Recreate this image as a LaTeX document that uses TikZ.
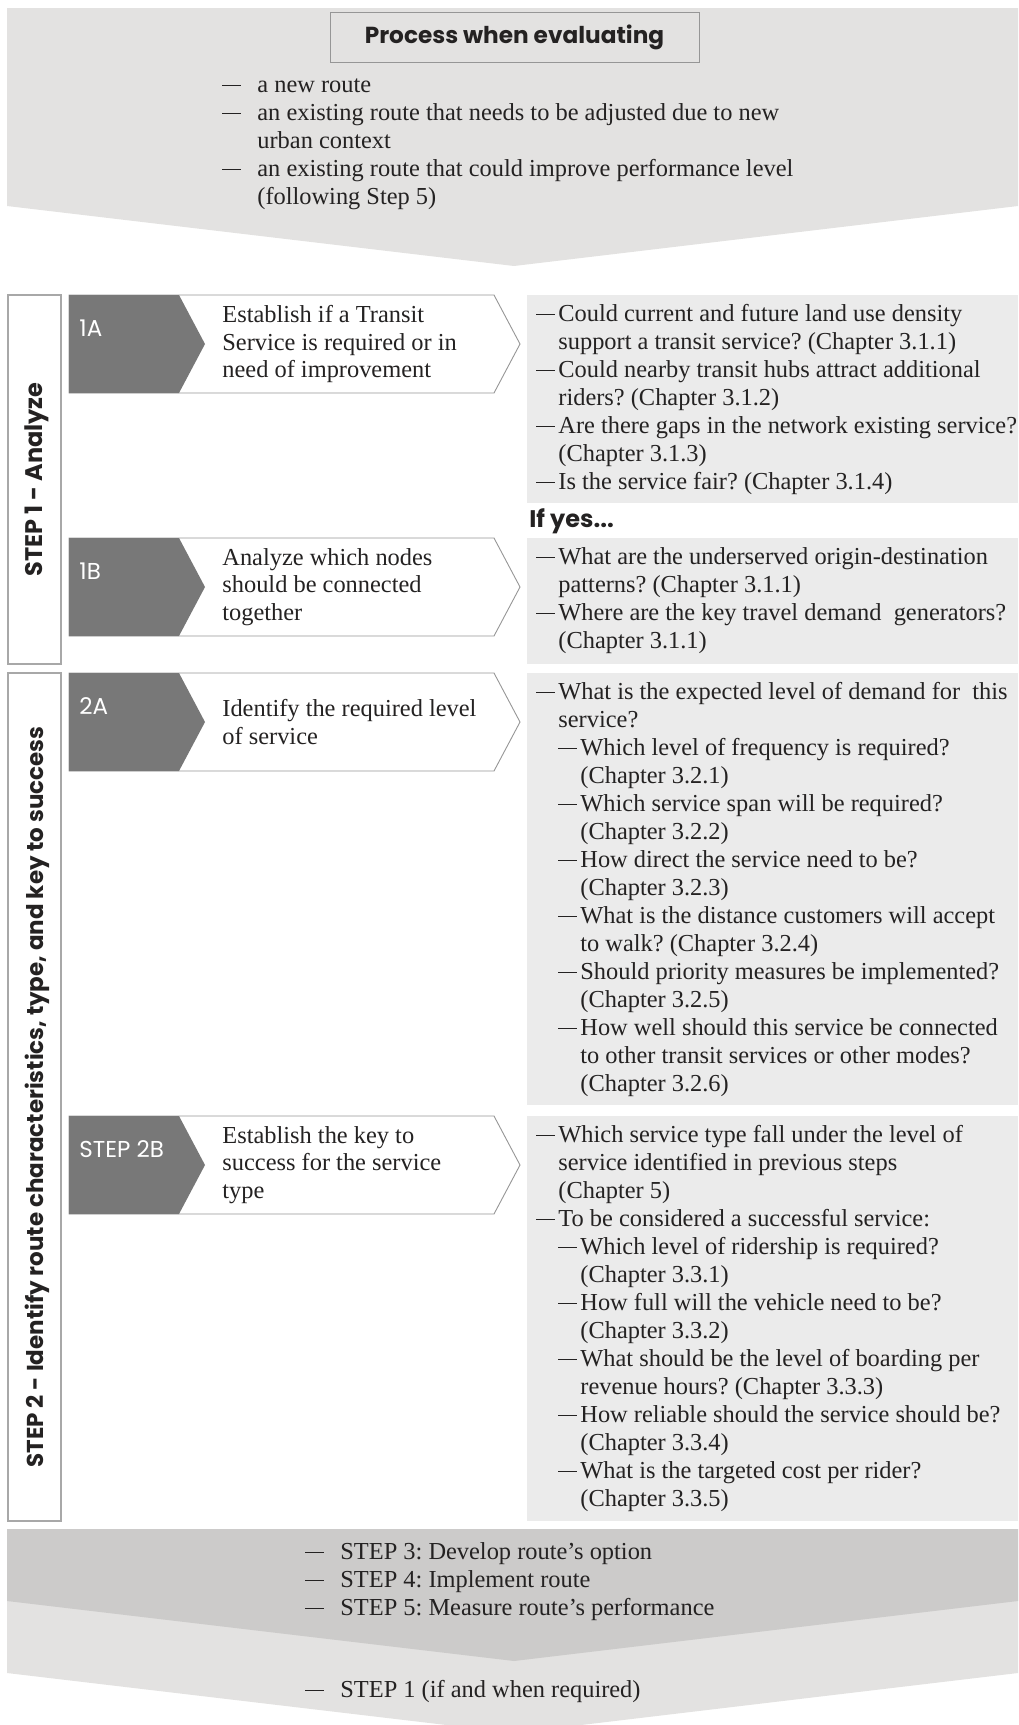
\documentclass[tikz,border=0pt]{standalone}
\usepackage{fontspec}
\setmainfont{Liberation Serif}
\newfontfamily\headfont{Poppins}
\usetikzlibrary{positioning}
\definecolor{Ink}{RGB}{36,34,34}
\definecolor{Chev}{RGB}{227,226,225}
\definecolor{ChevDark}{RGB}{204,203,202}
\definecolor{Panel}{RGB}{235,235,235}
\definecolor{Tag}{RGB}{120,120,120}
\definecolor{Rule}{RGB}{168,168,168}
\definecolor{Edge}{RGB}{150,150,150}

\newlength{\qind}\setlength{\qind}{11pt}
\newlength{\tind}\setlength{\tind}{17.5pt}
\newcommand{\qdash}{\rule[3.2pt]{9.5pt}{0.55pt}}
\newcommand{\qa}{\par\noindent\hangindent=\qind\hangafter=1\makebox[\qind][l]{\qdash}}
\newcommand{\qb}{\par\noindent\hangindent=2\qind\hangafter=1\hspace*{\qind}\makebox[\qind][l]{\qdash}}
\newcommand{\ta}{\par\noindent\hangindent=\tind\hangafter=1\makebox[\tind][l]{\qdash}}
\newcommand{\qlist}[1]{\parbox[t]{330pt}{\frenchspacing\fontsize{12.2}{14}\selectfont#1}}

\begin{document}
\begin{tikzpicture}[x=0.5pt,y=-0.5pt,
  tag/.style={font=\headfont\fontsize{11.5}{14}\selectfont,text=white,inner sep=0},
  task/.style={font=\fontsize{12.2}{13.75}\selectfont,align=left,inner sep=0,text=Ink},
  steplabel/.style={rotate=90,font=\headfont\bfseries\fontsize{12}{14}\selectfont,text=Ink},
  frame/.style={draw=Rule,line width=0.7pt},
  qtext/.style={anchor=base west,inner sep=0,text=Ink}]
\useasboundingbox (0,0) rectangle (1018,1725);

% top chevron
\fill[Chev] (7,8) -- (1018,8) -- (1018,206) -- (514,266) -- (7,206) -- cycle;
\node[draw=Edge,line width=0.5pt,minimum width=184.5pt,minimum height=25pt,
  font=\headfont\bfseries\fontsize{11.6}{14}\selectfont,text=Ink] (proc) at (514.5,37) {Process when evaluating};
\node[qtext] (cases) at (222,92) {\qlist{%
  \ta a new route
  \ta an existing route that needs to be adjusted due to new\\urban context
  \ta an existing route that could improve performance level\\(following Step 5)}};

% step frames
\draw[frame] (8,295) rectangle (61,664);
\draw[frame] (8,673) rectangle (61,1521);
\node[steplabel] (s1) at (37,479.5) {STEP 1 - Analyze};
\node[steplabel,font=\headfont\bfseries\fontsize{11.5}{14}\selectfont] (s2) at (37,1097) {STEP 2 - Identify route characteristics, type, and key to success};

% task arrows
\foreach \t/\lab/\txt [count=\i] in {
  295/1A/{Establish if a Transit\\Service is required or in\\need of improvement},
  538/1B/{Analyze which nodes\\should be connected\\together},
  673/2A/{Identify the required level\\of service},
  1116/{STEP 2B}/{Establish the key to\\success for the service\\type}}
{
  \draw[draw=Edge,fill=white,line width=0.45pt] (69,\t) -- (494,\t) -- (520,\t+49) -- (494,\t+98) -- (69,\t+98) -- cycle;
  \fill[Tag] (69,\t) -- (179,\t) -- (205,\t+49) -- (179,\t+98) -- (69,\t+98) -- cycle;
  \node[tag,anchor=base west] (tag\i) at (79,\t+41) {\lab};
  \node[task,anchor=west] (task\i) at (222,\t+49) {\txt};
}

% question panels
\fill[Panel] (527,295) rectangle (1018,503);
\fill[Panel] (527,538) rectangle (1018,664);
\fill[Panel] (527,673) rectangle (1018,1105);
\fill[Panel] (527,1116) rectangle (1018,1521);
\node[qtext] (q1) at (536,321) {\qlist{%
  \qa Could current and future land use density\\support a transit service? (Chapter 3.1.1)
  \qa Could nearby transit hubs attract additional\\riders? (Chapter 3.1.2)
  \qa Are there gaps in the network existing service?\\(Chapter 3.1.3)
  \qa Is the service fair? (Chapter 3.1.4)}};
\node[qtext,font=\headfont\bfseries\fontsize{12}{14}\selectfont] (ifyes) at (529,527) {If yes...};
\node[qtext] (q2) at (536,564) {\qlist{%
  \qa What are the underserved origin-destination\\patterns? (Chapter 3.1.1)
  \qa Where are the key travel demand\ \ generators?\\(Chapter 3.1.1)}};
\node[qtext] (q3) at (536,699) {\qlist{%
  \qa What is the expected level of demand for\ \ this\\service?
  \qb Which level of frequency is required?\\(Chapter 3.2.1)
  \qb Which service span will be required?\\(Chapter 3.2.2)
  \qb How direct the service need to be?\\(Chapter 3.2.3)
  \qb What is the distance customers will accept\\to walk? (Chapter 3.2.4)
  \qb Should priority measures be implemented?\\(Chapter 3.2.5)
  \qb How well should this service be connected\\to other transit services or other modes?\\(Chapter 3.2.6)}};
\node[qtext] (q4) at (536,1142) {\qlist{%
  \qa Which service type fall under the level of\\service identified in previous steps\\(Chapter 5)
  \qa To be considered a successful service:
  \qb Which level of ridership is required?\\(Chapter 3.3.1)
  \qb How full will the vehicle need to be?\\(Chapter 3.3.2)
  \qb What should be the level of boarding per\\revenue hours? (Chapter 3.3.3)
  \qb How reliable should the service should be?\\(Chapter 3.3.4)
  \qb What is the targeted cost per rider?\\(Chapter 3.3.5)}};

% bottom chevrons
\fill[Chev] (7,1529) -- (1018,1529) -- (1018,1673) -- (514,1733) -- (7,1673) -- cycle;
\fill[ChevDark] (7,1529) -- (1018,1529) -- (1018,1601) -- (514,1661) -- (7,1601) -- cycle;
\node[qtext] (next) at (305,1559) {\qlist{%
  \ta STEP 3: Develop route’s option
  \ta STEP 4: Implement route
  \ta STEP 5: Measure route’s performance}};
\node[qtext] (again) at (305,1697) {\qlist{\ta STEP 1 (if and when required)}};
\end{tikzpicture}
\end{document}
